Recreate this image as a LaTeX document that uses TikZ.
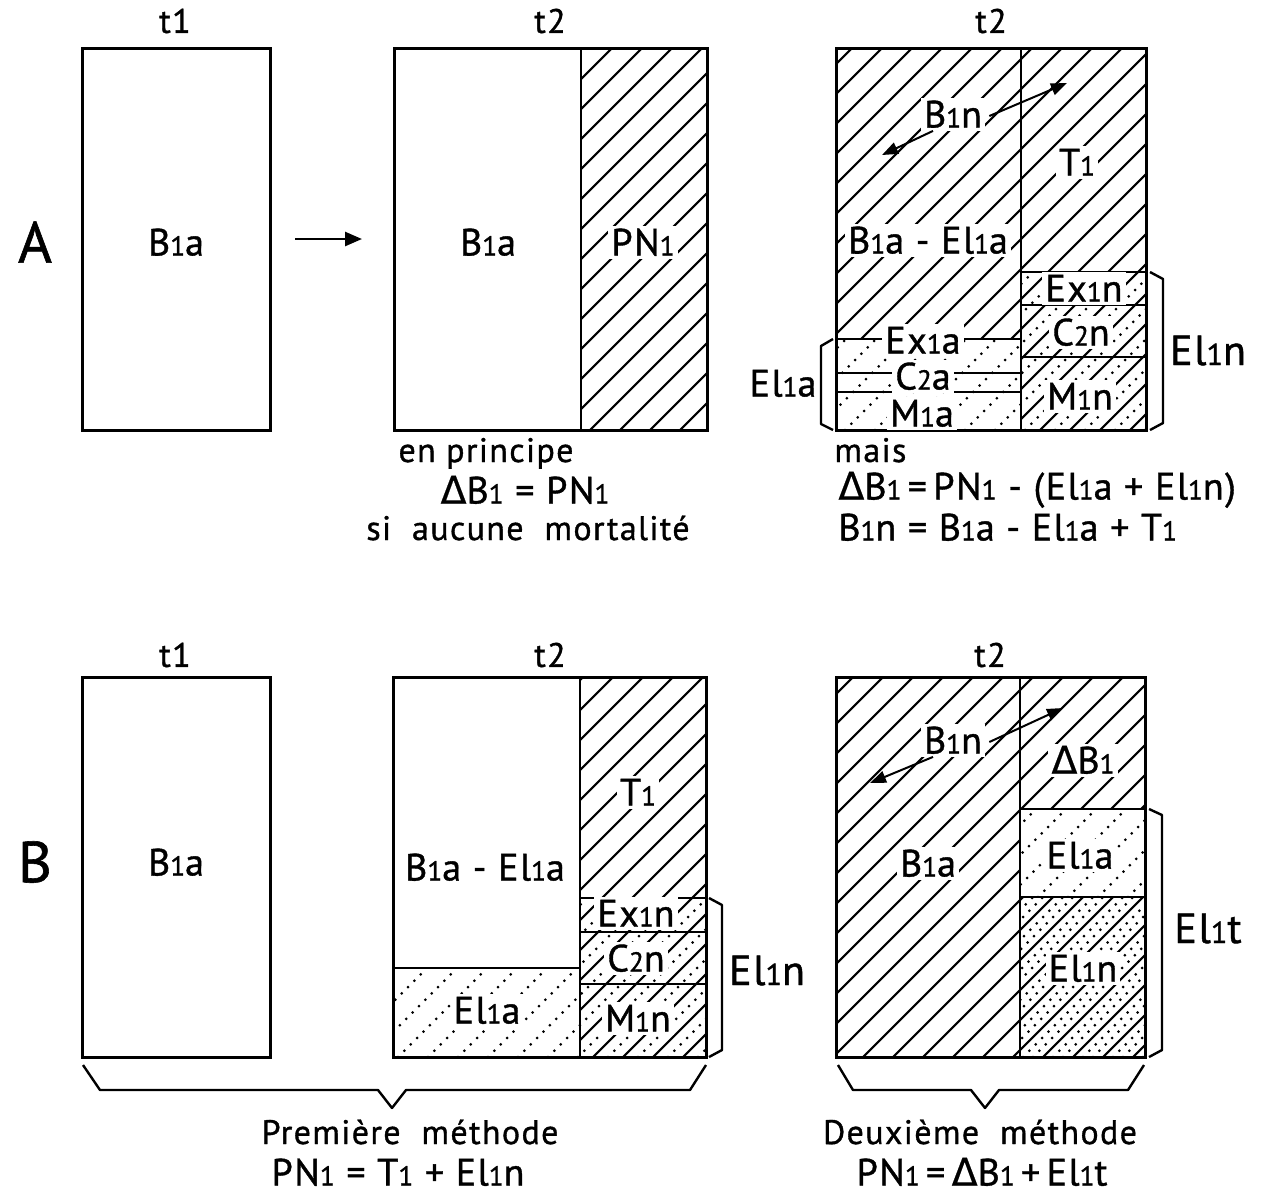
\documentclass[tikz,border=0pt]{standalone}
\usepackage{fontspec}
\setmainfont{PT Sans}[LetterSpace=4,FakeBold=1]
\newfontfamily\dv{DejaVu Sans}[FakeBold=0.5]
\usetikzlibrary{arrows.meta}
\newcommand\one{\scalebox{0.72}{1}}
\newcommand\two{\scalebox{0.72}{2}}
\newcommand\Dl{{\dv\char"0394}}
% hatch region: x1 y1 x2 y2 phase style
\newcommand\hreg[6]{%
  \begin{scope}
    \clip (#1,#2) rectangle (#3,#4);
    \pgfmathtruncatemacro\nlo{floor((#1+#2)/30)-2}
    \pgfmathtruncatemacro\nhi{ceil((#3+#4)/30)+2}
    \foreach \n in {\nlo,...,\nhi}{
      \pgfmathsetmacro\cc{\n*30+#5}
      \draw[#6] ({\cc-#4},#4) -- ({\cc-#2},#2);
    }
  \end{scope}}
\tikzset{
  boxl/.style={line width=1.5pt},
  sepl/.style={line width=1.2pt},
  hl/.style={line width=1.05pt},
  dl/.style={line width=1.5pt, line cap=round, dash pattern=on 0pt off 4.5pt},
  lab/.style={font=\fontsize{19}{22}\selectfont, inner sep=1pt, text height=13.5pt, text depth=0pt},
  wlab/.style={lab, fill=white, inner sep=1.5pt},
  slab/.style={lab, font=\fontsize{21}{24}\selectfont, text height=15pt},
  bigl/.style={font=\fontsize{29}{32}\selectfont, inner sep=0pt},
  tlab/.style={font=\fontsize{17}{20}\selectfont, inner sep=0pt},
  txt/.style={font=\fontsize{17}{20}\selectfont, inner sep=0pt, text height=12pt, text depth=0pt},
  frm/.style={font=\fontsize{19}{22}\selectfont, inner sep=0pt, text height=13.5pt, text depth=0pt},
  arr/.style={line width=1pt, -{Triangle[length=8pt,width=6pt]}},
  brc/.style={line width=1.2pt, line join=round}
}
\begin{document}
\begin{tikzpicture}[x=0.5pt,y=-0.5pt]
\useasboundingbox (0,0) rectangle (1279,1196);
% ================= ROW A =================
\hreg{581}{48}{707}{430}{0}{hl}
\hreg{836}{48}{1021}{339}{0}{hl}
\hreg{836}{339}{1021}{430}{15}{dl}
\hreg{1021}{48}{1146}{430}{0}{hl}
\hreg{1021}{272}{1146}{430}{15}{dl}
\draw[boxl] (82,48) rectangle (270,430);
\draw[boxl] (394,48) rectangle (707,430);
\draw[sepl] (581,48) -- (581,430);
\draw[boxl] (836,48) rectangle (1146,430);
\draw[sepl] (1021,48) -- (1021,430);
\draw[sepl] (836,339) -- (1021,339);
\draw[sepl] (836,373) -- (1021,373);
\draw[sepl] (836,392) -- (1021,392);
\draw[sepl] (1021,272) -- (1146,272);
\draw[sepl] (1021,305) -- (1146,305);
\draw[sepl] (1021,357) -- (1146,357);
\node[bigl] (lA) at (35,242) {A};
\node[tlab] (tA1) at (175,21) {t1};
\node[tlab] (tA2) at (550,21) {t2};
\node[tlab] (tA3) at (991,21) {t2};
\node[lab] (a1b) at (176,242) {B\one a};
\coordinate (aS) at (295,239);
\coordinate (aE) at (362,239);
\draw[line width=1.3pt,-{Triangle[length=8.5pt,width=7pt]}] (aS) -- (aE);
\node[lab] (a2b) at (488,242) {B\one a};
\node[wlab] (a2p) at (643,242) {PN\one};
\node[wlab] (a3bn) at (953,114) {B\one n};
\node[wlab] (a3t) at (1077,162) {T\one};
\node[wlab] (a3be) at (928,240) {B\one a - El\one a};
\node[wlab] (a3ex) at (923,340) {Ex\one a};
\node[wlab] (a3c) at (923,376) {C\two a};
\node[wlab] (a3m) at (922,413) {M\one a};
\node[wlab] (a3exn) at (1084,288) {Ex\one n};
\node[wlab] (a3cn) at (1081,332) {C\two n};
\node[wlab] (a3mn) at (1080,396) {M\one n};
\coordinate (a3r) at (1067,83);
\coordinate (a3l) at (882,155);
\draw[arr] ([xshift=2pt,yshift=-1pt]a3bn.east) -- (a3r);
\draw[arr] ([xshift=-10pt]a3bn.south) -- (a3l);
\draw[brc] (833,339) -- (821,346) -- (821,424) -- (833,430);
\node[lab] (a3ela) at (783,383) {El\one a};
\draw[brc] (1150,272) -- (1163,279) -- (1163,423) -- (1150,430);
\node[slab] (a3eln) at (1208,350) {El\one n};
\node[txt] (enp) at (486,450) {en principe};
\node[frm] (f1) at (525,490) {\Dl B\one\ = PN\one};
\node[txt] (sam) at (528,528) {si\ \ aucune\ \ mortalité};
\node[txt,anchor=west] (mais) at (834,450) {mais};
\node[frm,anchor=west] (f2) at (838,486) {\Dl B\one\,=\,PN\one\ -\ (El\one a\ +\ El\one n)};
\node[frm,anchor=west] (f3) at (838,527) {B\one n = B\one a - El\one a + T\one};
% ================= ROW B =================
\hreg{393}{968}{580}{1057}{15}{dl}
\hreg{580}{677}{706}{1057}{0}{hl}
\hreg{580}{898}{706}{1057}{15}{dl}
\hreg{836}{677}{1020}{1057}{0}{hl}
\hreg{1020}{677}{1145}{809}{0}{hl}
\hreg{1020}{809}{1145}{897}{15}{dl}
\hreg{1020}{897}{1145}{1057}{0}{hl}
\hreg{1020}{897}{1145}{1057}{10}{dl}
\hreg{1020}{897}{1145}{1057}{20}{dl}
\draw[boxl] (82,677) rectangle (270,1057);
\draw[boxl] (393,677) rectangle (706,1057);
\draw[sepl] (580,677) -- (580,1057);
\draw[sepl] (393,968) -- (580,968);
\draw[sepl] (580,898) -- (706,898);
\draw[sepl] (580,932) -- (706,932);
\draw[sepl] (580,984) -- (706,984);
\draw[boxl] (836,677) rectangle (1145,1057);
\draw[sepl] (1020,677) -- (1020,1057);
\draw[sepl] (1020,809) -- (1145,809);
\draw[sepl] (1020,897) -- (1145,897);
\node[bigl] (lB) at (35,862) {B};
\node[tlab] (tB1) at (175,655) {t1};
\node[tlab] (tB2) at (550,655) {t2};
\node[tlab] (tB3) at (990,655) {t2};
\node[lab] (b1b) at (176,862) {B\one a};
\node[lab] (b2be) at (485,867) {B\one a - El\one a};
\node[wlab] (b2t) at (638,792) {T\one};
\node[wlab] (b2ela) at (487,1010) {El\one a};
\node[wlab] (b2ex) at (636,913) {Ex\one n};
\node[wlab] (b2c) at (636,958) {C\two n};
\node[wlab] (b2m) at (638,1018) {M\one n};
\draw[brc] (709,898) -- (722,905) -- (722,1050) -- (709,1057);
\node[slab] (b2eln) at (767,970) {El\one n};
\node[wlab] (b3bn) at (953,740) {B\one n};
\node[wlab] (b3d) at (1083,760) {\Dl B\one};
\node[wlab] (b3b) at (928,863) {B\one a};
\node[wlab] (b3ela) at (1080,855) {El\one a};
\node[wlab] (b3eln) at (1083,968) {El\one n};
\coordinate (b3r) at (1063,708);
\coordinate (b3l) at (870,783);
\draw[arr] ([xshift=2pt,yshift=-1pt]b3bn.east) -- (b3r);
\draw[arr] ([xshift=-10pt]b3bn.south) -- (b3l);
\draw[brc] (1149,809) -- (1162,815) -- (1162,1050) -- (1149,1057);
\node[slab] (b3elt) at (1208,928) {El\one t};
\draw[brc] (83,1065) -- (100,1090) -- (378,1090) -- (392,1108) -- (406,1090) -- (690,1090) -- (706,1065);
\draw[brc] (838,1065) -- (853,1090) -- (971,1090) -- (985,1108) -- (999,1090) -- (1128,1090) -- (1144,1065);
\node[txt] (m1) at (410,1132) {Première\ \ méthode};
\node[frm] (m1f) at (398,1172) {PN\one\ = T\one\ + El\one n};
\node[txt] (m2) at (980,1132) {Deuxième\ \ méthode};
\node[frm] (m2f) at (982,1172) {PN\one\,=\,\Dl B\one\,+\,El\one t};
\end{tikzpicture}
\end{document}
